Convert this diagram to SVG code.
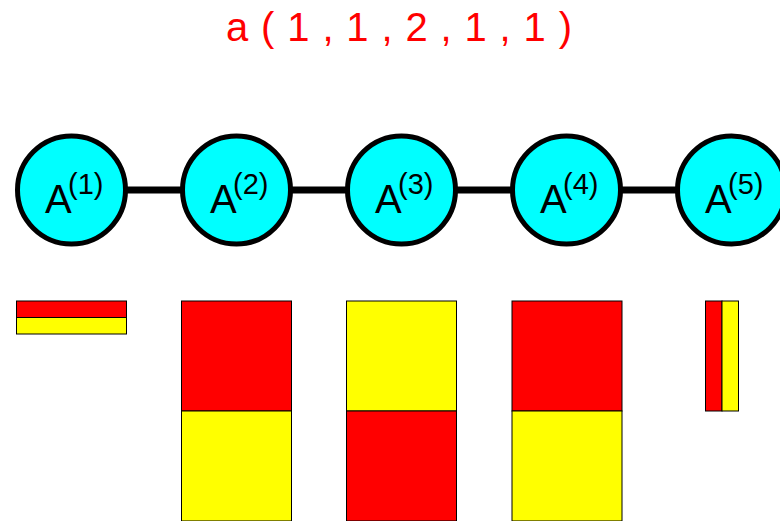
<svg xmlns="http://www.w3.org/2000/svg" width="780" height="521" viewBox="0 0 780 521">
<style>
.node{fill:#00ffff;stroke:#000;stroke-width:5}
.lbl{font-family:"Liberation Sans",Arial,sans-serif;font-size:40px;fill:#000}
.sup{font-family:"Liberation Sans",Arial,sans-serif;font-size:29px;fill:#000}
.r{fill:#ff0000;stroke:#000;stroke-width:1}
.y{fill:#ffff00;stroke:#000;stroke-width:1}
.title{font-family:"Liberation Sans",Arial,sans-serif;font-size:40px;fill:#ff0000}
</style>
<rect width="780" height="521" fill="#fff"/>
<text class="title" x="226" y="41" textLength="346" lengthAdjust="spacing">a ( 1 , 1 , 2 , 1 , 1 )</text>
<g id="connectors">
<line x1="71.5" y1="190" x2="731.5" y2="190" stroke="#000" stroke-width="7"/>
</g>
<g id="node1"><circle class="node" cx="71.5" cy="190" r="54"/><text class="lbl" x="45" y="212.5">A</text><text class="sup" x="68" y="194">(1)</text></g>
<g id="node2"><circle class="node" cx="236.5" cy="190" r="54"/><text class="lbl" x="210" y="212.5">A</text><text class="sup" x="233" y="194">(2)</text></g>
<g id="node3"><circle class="node" cx="401.5" cy="190" r="54"/><text class="lbl" x="375" y="212.5">A</text><text class="sup" x="398" y="194">(3)</text></g>
<g id="node4"><circle class="node" cx="566.5" cy="190" r="54"/><text class="lbl" x="540" y="212.5">A</text><text class="sup" x="563" y="194">(4)</text></g>
<g id="node5"><circle class="node" cx="731.5" cy="190" r="54"/><text class="lbl" x="705" y="212.5">A</text><text class="sup" x="728" y="194">(5)</text></g>
<g id="block1"><rect class="r" x="16.5" y="301" width="110" height="16.5"/><rect class="y" x="16.5" y="317.5" width="110" height="16.5"/></g>
<g id="block2"><rect class="r" x="181.5" y="301" width="110" height="110"/><rect class="y" x="181.5" y="411" width="110" height="110"/></g>
<g id="block3"><rect class="y" x="346.5" y="301" width="110" height="110"/><rect class="r" x="346.5" y="411" width="110" height="110"/></g>
<g id="block4"><rect class="r" x="512" y="301" width="110" height="110"/><rect class="y" x="512" y="411" width="110" height="110"/></g>
<g id="block5"><rect class="r" x="705.5" y="301" width="16.5" height="110"/><rect class="y" x="722" y="301" width="16.5" height="110"/></g>
</svg>
